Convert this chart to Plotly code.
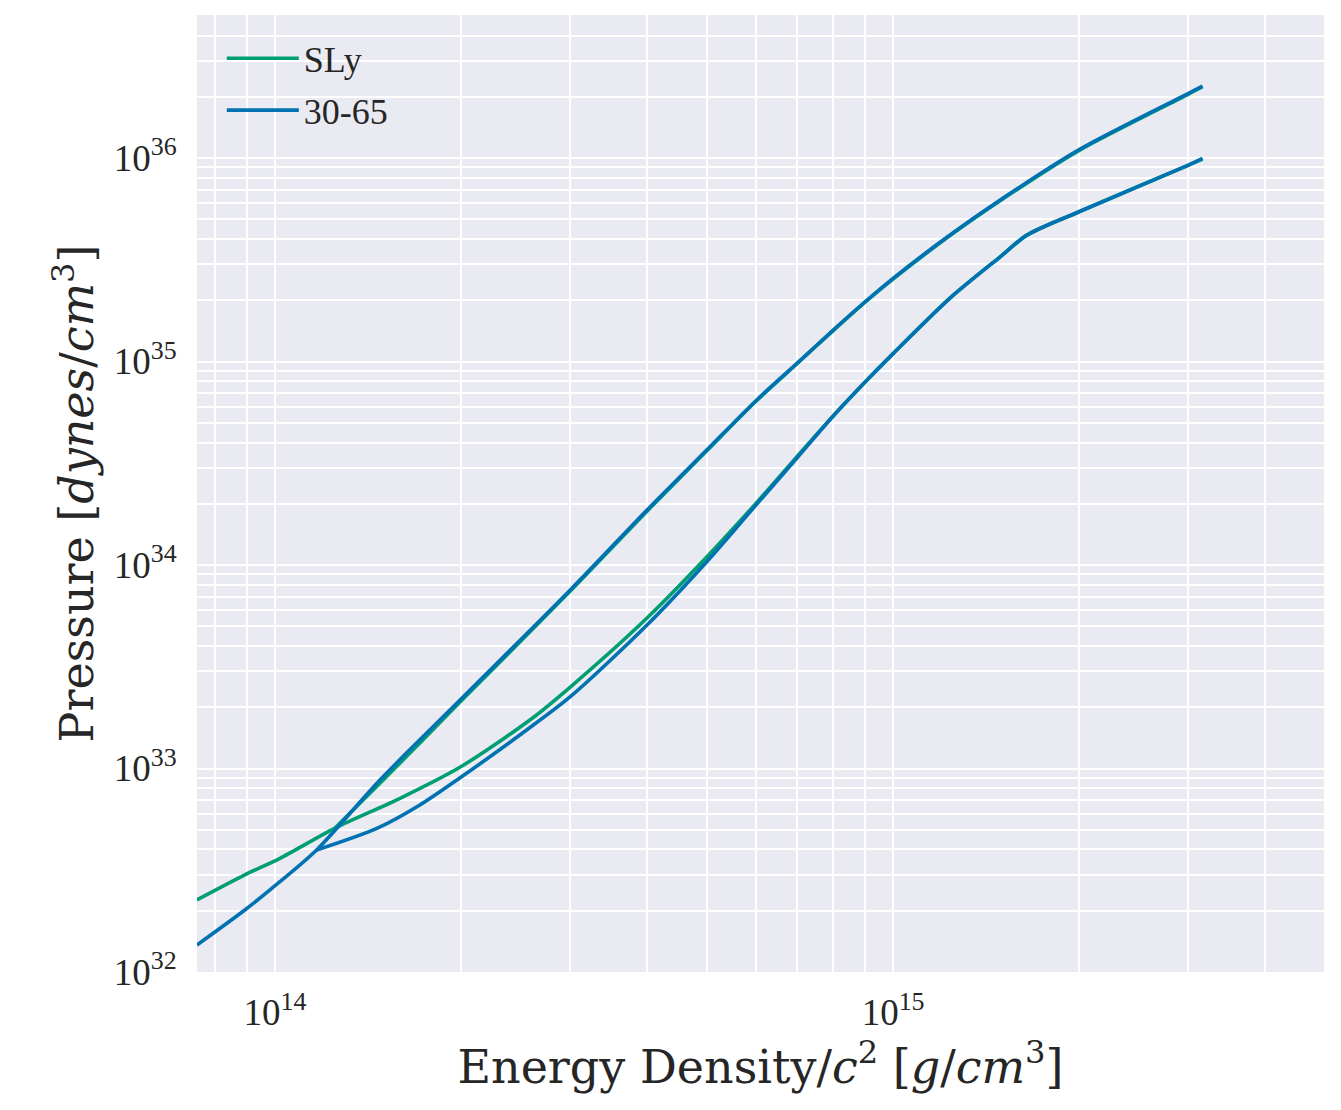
import plotly.graph_objects as go

# ---- data (energy density / c^2 in g/cm^3, pressure in dynes/cm^3) ----
sly_lower_rho = [7.48e13, 8.94e13, 1.019e14, 1.251e14, 1.594e14, 1.998e14, 2.585e14, 3.005e14,
                 3.999e14, 4.995e14, 6.0e14, 6.99e14, 8.0e14, 9.01e14, 1.001e15, 1.236e15,
                 1.49e15, 1.646e15, 1.994e15, 3.005e15, 3.166e15]
sly_lower_p = [2.26e32, 3.00e32, 3.62e32, 5.10e32, 7.14e32, 1.02e33, 1.731e33, 2.515e33,
               5.49e33, 1.095e34, 2.01e34, 3.41e34, 5.40e34, 7.93e34, 1.097e35, 2.05e35,
               3.27e35, 4.18e35, 5.43e35, 9.24e35, 9.89e35]

sly_upper_rho = [1.251e14, 1.497e14, 1.716e14, 1.993e14, 3.005e14, 3.999e14, 4.995e14, 6.0e14,
                 6.99e14, 8.0e14, 9.01e14, 1.001e15, 1.236e15, 1.49e15, 1.994e15,
                 3.005e15, 3.166e15]
sly_upper_p = [5.10e32, 8.78e32, 1.335e33, 2.12e33, 7.45e33, 1.84e34, 3.64e34, 6.38e34,
               9.75e34, 1.42e35, 1.96e35, 2.55e35, 4.16e35, 6.17e35, 1.085e36,
               2.06e36, 2.24e36]

eos3065_upper_rho = [7.48e13, 8.94e13, 1.019e14, 1.168e14, 1.479e14, 1.993e14, 3.005e14, 3.999e14,
                     4.995e14, 6.0e14, 6.99e14, 8.0e14, 9.01e14, 1.001e15, 1.236e15, 1.49e15,
                     1.994e15, 3.005e15, 3.166e15]
eos3065_upper_p = [1.358e32, 2.017e32, 2.778e32, 3.977e32, 8.78e32, 2.17e33, 7.54e33, 1.863e34,
                   3.674e34, 6.42e34, 9.8e34, 1.428e35, 1.967e35, 2.572e35, 4.183e35, 6.217e35,
                   1.095e36, 2.08e36, 2.259e36]

eos3065_lower_rho = [1.168e14, 1.462e14, 1.716e14, 1.996e14, 2.49e14, 3.005e14, 3.999e14, 4.995e14,
                     6.0e14, 6.99e14, 8.0e14, 9.01e14, 1.001e15, 1.236e15, 1.49e15, 1.646e15,
                     1.994e15, 3.005e15, 3.166e15]
eos3065_lower_p = [3.977e32, 5.08e32, 6.62e32, 9.03e32, 1.461e33, 2.253e33, 5.07e33, 1.038e34,
                   1.971e34, 3.355e34, 5.40e34, 7.93e34, 1.097e35, 2.05e35, 3.27e35, 4.18e35,
                   5.43e35, 9.24e35, 9.95e35]

series_names = ["SLy", "30-65"]
x_tick_vals = [1e14, 1e15]
x_tick_text = ["10<sup>14</sup>", "10<sup>15</sup>"]
y_tick_vals = [1e32, 1e33, 1e34, 1e35, 1e36]
y_tick_text = ["10<sup>32</sup>", "10<sup>33</sup>", "10<sup>34</sup>", "10<sup>35</sup>", "10<sup>36</sup>"]

GREEN = "#009E73"
BLUE = "#0072B2"
FONT = "Liberation Serif"
TITLE_FONT = "DejaVu Serif"
TXT = "#262626"
LW = 3.6

fig = go.Figure()
line_g = dict(color=GREEN, width=LW, shape="spline", smoothing=0.8)
line_b = dict(color=BLUE, width=LW, shape="spline", smoothing=0.8)
fig.add_trace(go.Scatter(x=sly_lower_rho, y=sly_lower_p, mode="lines", name=series_names[0],
                         legendgroup="sly", line=line_g))
fig.add_trace(go.Scatter(x=sly_upper_rho, y=sly_upper_p, mode="lines", name=series_names[0],
                         legendgroup="sly", showlegend=False, line=line_g))
fig.add_trace(go.Scatter(x=eos3065_upper_rho, y=eos3065_upper_p, mode="lines", name=series_names[1],
                         legendgroup="e3065", line=line_b))
fig.add_trace(go.Scatter(x=eos3065_lower_rho, y=eos3065_lower_p, mode="lines", name=series_names[1],
                         legendgroup="e3065", showlegend=False, line=line_b))

x_minor = [m * 10.0 ** e for e in (13, 14, 15) for m in range(2, 10)]
y_minor = [m * 10.0 ** e for e in (32, 33, 34, 35, 36) for m in range(2, 10)]

fig.update_layout(
    width=1341, height=1110,
    margin=dict(l=197, r=17, t=15, b=138),
    plot_bgcolor="#EAEAF2", paper_bgcolor="white",
    font=dict(family=FONT, color=TXT),
    legend=dict(x=0.022, y=0.986, xanchor="left", yanchor="top", bgcolor="rgba(0,0,0,0)",
                font=dict(size=36, family=FONT, color=TXT), itemwidth=72,
                tracegroupgap=2),
    showlegend=True,
)
fig.update_xaxes(
    type="log", range=[13.874, 15.697],
    tickmode="array", tickvals=x_tick_vals, ticktext=x_tick_text,
    tickfont=dict(size=37, family=FONT, color=TXT),
    ticks="outside", ticklen=8, tickcolor="rgba(0,0,0,0)",
    showgrid=True, gridcolor="white", gridwidth=2, zeroline=False, showline=False,
    minor=dict(tickmode="array", tickvals=x_minor, showgrid=True, gridcolor="white", gridwidth=1.6, ticks=""),
    title=dict(text="Energy Density/<i>c</i><sup>2</sup> [<i>g</i>/<i>cm</i><sup>3</sup>]",
               font=dict(size=46, family=TITLE_FONT, color=TXT), standoff=4),
)
fig.update_yaxes(
    type="log", range=[32.0, 36.703],
    tickmode="array", tickvals=y_tick_vals, ticktext=y_tick_text,
    tickfont=dict(size=37, family=FONT, color=TXT),
    ticks="outside", ticklen=12, tickcolor="rgba(0,0,0,0)",
    showgrid=True, gridcolor="white", gridwidth=2, zeroline=False, showline=False,
    minor=dict(tickmode="array", tickvals=y_minor, showgrid=True, gridcolor="white", gridwidth=1.6, ticks=""),
    title=dict(text="Pressure [<i>dynes</i>/<i>cm</i><sup>3</sup>]",
               font=dict(size=46, family=TITLE_FONT, color=TXT), standoff=5),
)

fig.write_html("out.html")
